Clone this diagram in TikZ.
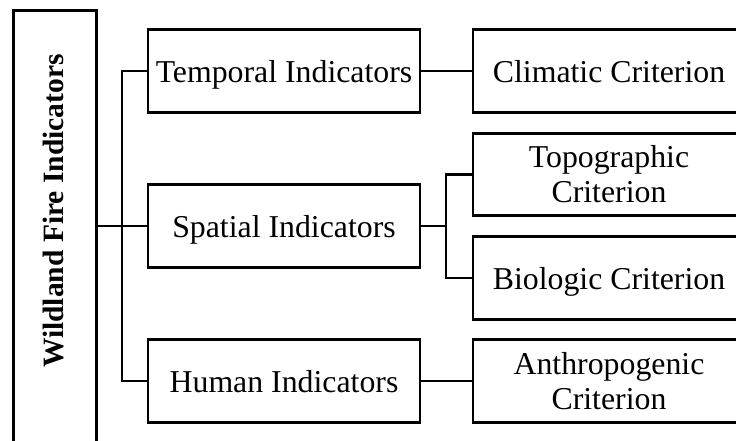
\documentclass[tikz,border=0pt]{standalone}
\usepackage{fontspec}
\setmainfont{Liberation Serif}
\begin{document}
\begin{tikzpicture}[x=1pt,y=-1pt,
  box/.style={draw, line width=2.9pt, minimum width=272pt, minimum height=82.5pt,
    inner sep=0pt, align=center, font=\fontsize{31.8}{35}\selectfont},
  oneline/.style={box, text depth=0pt},
  link/.style={line width=2.9pt}]
\useasboundingbox (0,0) rectangle (736,441);
% root box, running past the lower edge
\node[draw, line width=2.9pt, minimum width=83pt, minimum height=480pt,
  inner sep=0pt, anchor=north west] (root) at (12,9.5) {};
\node[rotate=90, font=\fontsize{29.5}{33}\selectfont\bfseries] (rootlabel)
  at (53,211) {Wildland Fire Indicators};
% indicator boxes
\node[oneline] (tem) at (284,71) {Temporal Indicators};
\node[oneline] (spa) at (284,226) {Spatial Indicators};
\node[oneline] (hum) at (284,381) {Human Indicators};
% criterion boxes
\node[oneline] (cli) at (609,71) {Climatic Criterion};
\node[box] (top) at (609,174.5) {Topographic\\Criterion};
\node[oneline] (bio) at (609,278) {Biologic Criterion};
\node[box] (ant) at (609,381) {Anthropogenic\\Criterion};
% junction columns
\coordinate (tk) at (122,226);
\coordinate (sj) at (446,226);
% connectors
\draw[link] (root.east |- spa.west) -- (spa.west);
\draw[link] (tem.west) -- (tem.west -| tk) -- (hum.west -| tk) -- (hum.west);
\draw[link] (tem.east) -- (cli.west);
\draw[link] (spa.east) -- (spa.east -| sj);
\draw[link] (top.west) -- (top.west -| sj) -- (bio.west -| sj) -- (bio.west);
\draw[link] (hum.east) -- (ant.west);
\end{tikzpicture}
\end{document}
